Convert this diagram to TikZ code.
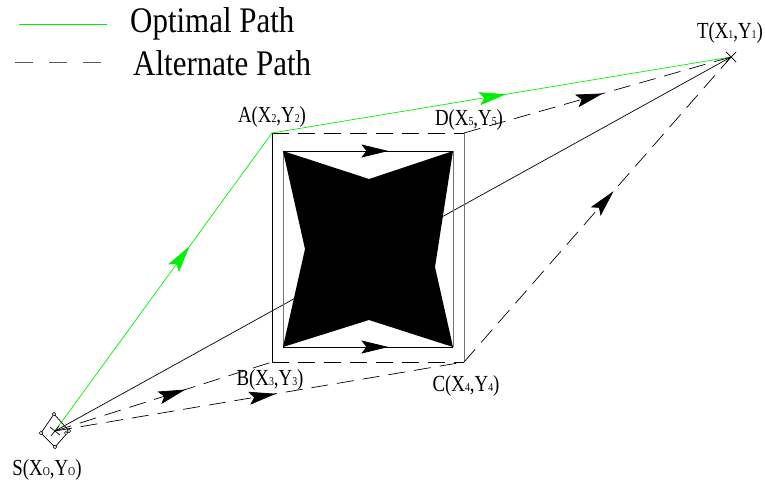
\documentclass[tikz,border=0pt]{standalone}
\usepackage{fontspec}
\usepackage{graphicx}
\setmainfont{Liberation Serif}
\usetikzlibrary{arrows.meta,decorations.markings,calc}
\definecolor{optgreen}{RGB}{0,240,0}
\newcommand\subd[1]{{\fontsize{12}{12}\selectfont #1}}
\newcommand\lbltext[1]{\scalebox{0.82}[1]{\rmfamily\fontsize{23}{23}\selectfont #1}}
\newcommand\legtxt[1]{\scalebox{0.86}[1]{\rmfamily\fontsize{36}{36}\selectfont #1}}
\tikzset{
  thinline/.style={line width=0.7pt},
  dashline/.style={thinline, dash pattern=on 17pt off 9pt},
  greenline/.style={thinline, draw=optgreen},
  midarrow/.style={postaction={decorate,decoration={markings,
     mark=at position #1 with {\arrow{Stealth[length=27pt,width=13pt,inset=5pt]}}}}},
  lbl/.style={inner sep=0pt},
  legtext/.style={inner sep=0pt, anchor=base west},
}
\begin{document}
\begin{tikzpicture}[x=1pt,y=-1pt]
\useasboundingbox (0,0) rectangle (765,482);
% main points
\coordinate (S) at (55,431);
\coordinate (T) at (731,57);
\coordinate (A) at (272,133);
\coordinate (D) at (464,133);
\coordinate (B) at (272,362);
\coordinate (C) at (464,362);
% inner rectangle corners
\coordinate (iTL) at (283,151);
\coordinate (iTR) at (453,151);
\coordinate (iBL) at (283,347);
\coordinate (iBR) at (453,347);
% legend
\coordinate (lg1a) at (19,24);
\coordinate (lg1b) at (107,24);
\coordinate (lg2a) at (15,62);
\coordinate (lg2b) at (115,62);
\draw[greenline] (lg1a) -- (lg1b);
\draw[thinline, draw=black!65, dash pattern=on 18pt off 16pt] (lg2a) -- (lg2b);
\node[legtext] (opt) at (130,32) {\legtxt{Optimal Path}};
\node[legtext] (alt) at (133,75) {\legtxt{Alternate Path}};
% straight line S-T (behind obstacle)
\draw[thinline] (S) -- (T);
% outer rectangle
\draw[thinline] (A) -- (B);
\draw[thinline, draw=black!55] (D) -- (C);
\draw[dashline] (A) -- (D);
\draw[dashline] (B) -- (C);
% inner rectangle sides
\draw[thinline, draw=black!55] (iTL) -- (iBL);
\draw[thinline, draw=black!55] (iTR) -- (iBR);
% obstacle star
\fill[black] (iTL) -- (369,179) -- (iTR) -- (435,267) -- (iBR) -- (369,320) -- (iBL) -- (305,249) -- cycle;
\draw[thinline, midarrow=0.62] (iTL) -- (iTR);
\draw[thinline, midarrow=0.62] (iBL) -- (iBR);
% optimal path
\draw[greenline, midarrow=0.62] (S) -- (A);
\draw[greenline, midarrow=0.51] (A) -- (T);
% alternate paths
\draw[dashline, midarrow=0.52] (D) -- (T);
\draw[dashline, midarrow=0.56] (C) -- (T);
\draw[dashline, midarrow=0.6] (S) -- (B);
\draw[dashline, midarrow=0.54] (S) -- (C);
% target marker
\draw[thinline] ($(T)+(-5,-5)$) -- ($(T)+(5,5)$);
\draw[thinline] ($(T)+(-5,5)$) -- ($(T)+(5,-5)$);
% start marker
\coordinate (s1) at (54,414);
\coordinate (s2) at (69,431);
\coordinate (s3) at (55,447);
\coordinate (s4) at (41,433);
\draw[thinline] (s1) -- (s2) -- (s3) -- (s4) -- cycle;
\foreach \p in {s1,s2,s3,s4} \draw[line width=0.5pt, fill=white] (\p) circle (1.8);
\draw[line width=0.5pt, fill=white] (66,433) circle (1.6);
\draw[thinline] ($(S)+(-5,-4)$) -- ($(S)+(5,4)$);
\draw[thinline] ($(S)+(-4,5)$) -- ($(S)+(4,-5)$);
% labels
\node[lbl] (lT) at (730,33) {\lbltext{T(X\subd{1},Y\subd{1})}};
\node[lbl] (lA) at (272,117) {\lbltext{A(X\subd{2},Y\subd{2})}};
\node[lbl] (lD) at (469,120) {\lbltext{D(X\subd{5},Y\subd{5})}};
\node[lbl] (lB) at (270,380) {\lbltext{B(X\subd{3},Y\subd{3})}};
\node[lbl] (lC) at (466,386) {\lbltext{C(X\subd{4},Y\subd{4})}};
\node[lbl] (lS) at (47,470) {\lbltext{S(X\subd{O},Y\subd{O})}};
\end{tikzpicture}
\end{document}
